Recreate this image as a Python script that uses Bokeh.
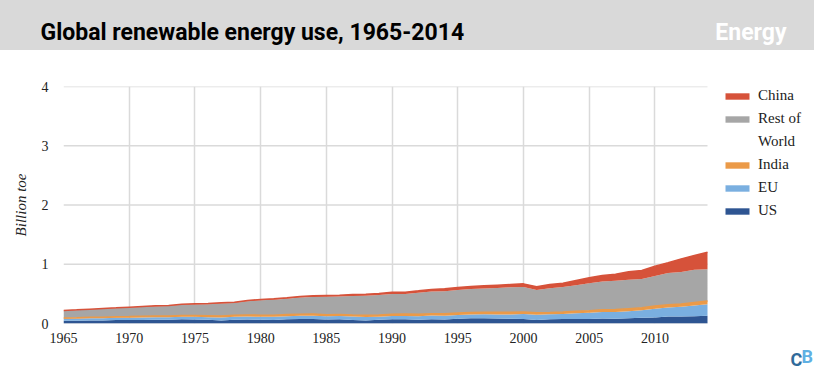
from bokeh.plotting import figure
from bokeh.models import (Range1d, FixedTicker, Legend, LegendItem, Label,
                          ColumnDataSource, InlineStyleSheet)
from bokeh.transform import stack
from bokeh.embed import file_html
from bokeh.resources import INLINE

# ---------------- data (billion tonnes of oil equivalent) ----------------
years = list(range(1965, 2015))
us = [0.045, 0.047, 0.052, 0.051, 0.057, 0.057, 0.061, 0.063, 0.062, 0.070,
      0.068, 0.064, 0.052, 0.065, 0.066, 0.062, 0.060, 0.071, 0.077, 0.075,
      0.067, 0.070, 0.061, 0.052, 0.062, 0.072, 0.071, 0.064, 0.072, 0.067,
      0.080, 0.088, 0.089, 0.083, 0.082, 0.074, 0.061, 0.073, 0.075, 0.074,
      0.077, 0.085, 0.080, 0.088, 0.097, 0.101, 0.120, 0.117, 0.124, 0.130]
eu = [0.035, 0.037, 0.037, 0.039, 0.040, 0.042, 0.041, 0.043, 0.042, 0.046,
      0.044, 0.042, 0.050, 0.050, 0.052, 0.052, 0.052, 0.052, 0.053, 0.055,
      0.054, 0.055, 0.057, 0.058, 0.053, 0.055, 0.057, 0.060, 0.061, 0.064,
      0.064, 0.065, 0.067, 0.070, 0.072, 0.085, 0.088, 0.083, 0.086, 0.097,
      0.103, 0.107, 0.113, 0.120, 0.128, 0.150, 0.148, 0.165, 0.180, 0.197]
india = [0.014, 0.015, 0.016, 0.017, 0.018, 0.019, 0.020, 0.020, 0.021, 0.021,
         0.022, 0.024, 0.024, 0.026, 0.026, 0.026, 0.027, 0.027, 0.028, 0.029,
         0.028, 0.029, 0.027, 0.030, 0.030, 0.031, 0.032, 0.031, 0.031, 0.034,
         0.033, 0.032, 0.033, 0.035, 0.036, 0.035, 0.033, 0.031, 0.032, 0.035,
         0.036, 0.040, 0.042, 0.043, 0.042, 0.044, 0.047, 0.047, 0.050, 0.053]
rest_of_world = [0.121, 0.126, 0.132, 0.141, 0.143, 0.151, 0.157, 0.163, 0.170, 0.179,
                 0.187, 0.197, 0.212, 0.206, 0.230, 0.252, 0.262, 0.266, 0.279, 0.288,
                 0.303, 0.303, 0.321, 0.330, 0.334, 0.342, 0.340, 0.366, 0.375, 0.381,
                 0.388, 0.396, 0.403, 0.412, 0.421, 0.424, 0.382, 0.408, 0.424, 0.440,
                 0.464, 0.478, 0.485, 0.487, 0.486, 0.505, 0.539, 0.542, 0.554, 0.534]
china = [0.004, 0.005, 0.005, 0.005, 0.006, 0.007, 0.008, 0.009, 0.009, 0.010,
         0.011, 0.010, 0.011, 0.013, 0.014, 0.013, 0.015, 0.017, 0.019, 0.020,
         0.021, 0.021, 0.023, 0.025, 0.027, 0.029, 0.029, 0.030, 0.035, 0.039,
         0.042, 0.043, 0.044, 0.047, 0.047, 0.051, 0.055, 0.065, 0.064, 0.080,
         0.091, 0.100, 0.112, 0.134, 0.141, 0.168, 0.170, 0.220, 0.240, 0.290]

stackers = ["us", "eu", "india", "row", "china"]
colors = ["#2e5592", "#7aafe0", "#eb9a48", "#a6a6a6", "#d6523a"]
x_ticks = [1965, 1970, 1975, 1980, 1985, 1990, 1995, 2000, 2005, 2010]
y_ticks = [0, 1, 2, 3, 4]
title_text = "Global renewable energy use, 1965-2014"
y_label = "Billion toe"

src = ColumnDataSource(dict(year=years, us=us, eu=eu, india=india,
                            row=rest_of_world, china=china))

SERIF = "Liberation Serif"
TXT = "#222222"
GRID = "#dadada"

# the data span 644 px; the frame continues 107 px further right to hold the legend
x_end = years[-1] + 107 * (years[-1] - years[0]) / 644

p = figure(width=814, height=370,
           x_range=Range1d(years[0], x_end), y_range=Range1d(0, 4),
           toolbar_location=None, output_backend="svg",
           min_border_left=63, min_border_right=0, min_border_top=86, min_border_bottom=47)
p.outline_line_color = None
p.background_fill_color = "white"
p.border_fill_color = None
p.stylesheets = [InlineStyleSheet(css=(
    ":host { background: linear-gradient(to bottom, #d9d9d9 0px, #d9d9d9 50px, "
    "#ffffff 50px, #ffffff 100%); }"))]

# horizontal grid lines only across the data span
p.segment(x0=[years[0]] * len(y_ticks), x1=[years[-1]] * len(y_ticks),
          y0=y_ticks, y1=y_ticks, line_color=GRID, line_width=1.5)

areas = p.varea_stack(stackers=stackers, x="year", source=src, color=colors)
p.line(x="year", y=stack("us", "eu", "india"), source=src, line_color=colors[2], line_width=1.5)
p.line(x="year", y=stack(*stackers), source=src, line_color=colors[4], line_width=1.5)
dummy = p.varea(x=[1965, 1966], y1=[0, 0], y2=[0, 0], fill_alpha=0)

p.xaxis.ticker = FixedTicker(ticks=x_ticks)
p.yaxis.ticker = FixedTicker(ticks=y_ticks)
p.xgrid.ticker = FixedTicker(ticks=x_ticks)
p.xgrid.grid_line_color = GRID
p.xgrid.grid_line_width = 1.5
p.ygrid.visible = False

for ax in (p.xaxis, p.yaxis):
    ax.axis_line_color = None
    ax.major_tick_line_color = None
    ax.minor_tick_line_color = None
    ax.major_tick_out = 0
    ax.major_tick_in = 0
    ax.major_label_text_font = SERIF
    ax.major_label_text_font_size = "14px"
    ax.major_label_text_color = TXT
p.xaxis.major_label_standoff = 9
p.yaxis.major_label_standoff = 15
p.yaxis.axis_label = y_label
p.yaxis.axis_label_text_font = SERIF
p.yaxis.axis_label_text_font_style = "italic"
p.yaxis.axis_label_text_font_size = "15px"
p.yaxis.axis_label_text_color = TXT
p.yaxis.axis_label_standoff = 10

# header texts (side-panel labels are not clipped to the frame)
p.add_layout(Label(x=-23, y=54, x_units="screen", y_units="screen", text=title_text,
                   text_font="Roboto", text_font_style="bold", text_font_size="23px",
                   text_color="black", text_baseline="alphabetic"), "above")
p.add_layout(Label(x=723, y=27, x_units="screen", y_units="screen", text="Energy",
                   text_font="Roboto", text_font_style="bold", text_font_size="23px",
                   text_color="white", text_baseline="alphabetic", text_align="right"), "above")
p.add_layout(Label(x=727, y=-327, x_units="screen", y_units="screen", text="C",
                   text_font="Roboto", text_font_style="bold", text_font_size="18px",
                   text_color="#2f6a9a", text_baseline="alphabetic"), "above")
p.add_layout(Label(x=738, y=10, x_units="screen", y_units="screen", text="B",
                   text_font="Roboto", text_font_style="bold", text_font_size="18px",
                   text_color="#5fb0e3", text_baseline="alphabetic"), "below")

legend = Legend(items=[
    LegendItem(label="China", renderers=[areas[4]]),
    LegendItem(label="Rest of", renderers=[areas[3]]),
    LegendItem(label="World", renderers=[dummy]),
    LegendItem(label="India", renderers=[areas[2]]),
    LegendItem(label="EU", renderers=[areas[1]]),
    LegendItem(label="US", renderers=[areas[0]]),
], location=(659, 104))
legend.glyph_width = 30
legend.glyph_height = 8
legend.label_height = 15
legend.spacing = 6
legend.label_standoff = 6
legend.padding = 0
legend.margin = 0
legend.border_line_color = None
legend.background_fill_alpha = 0
legend.label_text_font = SERIF
legend.label_text_font_size = "15px"
legend.label_text_color = TXT
p.add_layout(legend)

open("out.html", "w").write(file_html(p, INLINE))
